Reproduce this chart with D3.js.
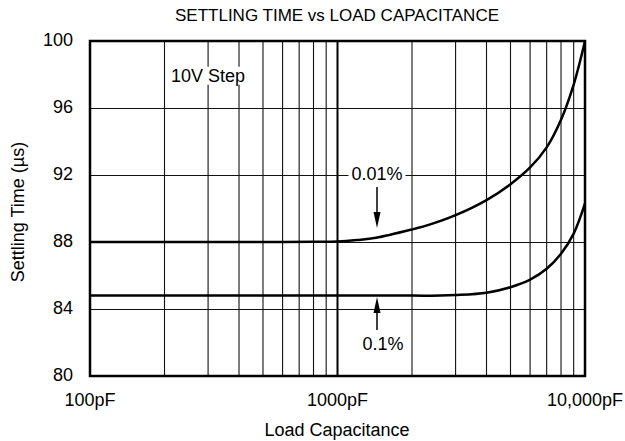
<!DOCTYPE html>
<html><head><meta charset="utf-8">
<script src="https://cdn.jsdelivr.net/npm/d3@7"></script>
<style>body{margin:0;background:#fff}text{font-family:"Liberation Sans",Arial,sans-serif;fill:#000}</style>
</head><body>
<svg id="c" width="625" height="441"></svg>
<script>
const capacitance = [100, 200, 400, 600, 800, 1000, 1200, 1430, 2000, 2370, 3000, 4000, 5000, 6000, 7000, 8000, 9000, 10000];
const settle001 = [88.0, 88.0, 88.0, 88.0, 88.01, 88.03, 88.12, 88.25, 88.75, 89.05, 89.6, 90.5, 91.45, 92.45, 93.65, 95.3, 97.4, 100];
const settle01c = [100, 200, 500, 1000, 2000, 2600, 3000, 4000, 5000, 6000, 7000, 8000, 9000, 10000];
const settle01 = [84.8, 84.8, 84.8, 84.8, 84.8, 84.8, 84.83, 84.97, 85.3, 85.75, 86.4, 87.3, 88.5, 90.3];
const yTicks = [80, 84, 88, 92, 96, 100];
const xTickVals = [100, 1000, 10000];
const xTickLabels = ["100pF", "1000pF", "10,000pF"];

const svg = d3.select("#c");
const L = 90, R = 585, T = 41, B = 376;
const x = d3.scaleLog().domain([100, 10000]).range([L, R]);
const y = d3.scaleLinear().domain([80, 100]).range([B, T]);

// vertical grid
const minor = [];
[100, 1000].forEach(d => { for (let k = 2; k <= 9; k++) minor.push(d * k); });
svg.append("g").selectAll("line").data(minor).join("line")
  .attr("x1", d => x(d)).attr("x2", d => x(d))
  .attr("y1", T).attr("y2", B).attr("stroke", "#111").attr("stroke-width", 1.1);
svg.append("line").attr("x1", x(1000)).attr("x2", x(1000)).attr("y1", T).attr("y2", B)
  .attr("stroke", "#000").attr("stroke-width", 2);
// horizontal grid
svg.append("g").selectAll("line").data(yTicks.slice(1, -1)).join("line")
  .attr("x1", L).attr("x2", R).attr("y1", d => Math.round(y(d)) + 0.5).attr("y2", d => Math.round(y(d)) + 0.5)
  .attr("stroke", "#111").attr("stroke-width", 1);

function label(txt, cx, cy, size) {
  const g = svg.append("g");
  const t = g.append("text").attr("x", cx).attr("y", cy).attr("text-anchor", "middle")
    .attr("dominant-baseline", "middle").attr("font-size", size).text(txt);
  const b = t.node().getBBox();
  g.insert("rect", "text").attr("x", b.x - 3).attr("y", b.y + 1).attr("width", b.width + 6).attr("height", b.height - 2).attr("fill", "#fff");
}

// curves
const line = d3.line().x(d => x(d[0])).y(d => y(d[1])).curve(d3.curveCatmullRom.alpha(0.5));
svg.append("path").attr("d", line(capacitance.map((c, i) => [c, settle001[i]])))
  .attr("fill", "none").attr("stroke", "#000").attr("stroke-width", 2.5);
svg.append("path").attr("d", line(settle01c.map((c, i) => [c, settle01[i]])))
  .attr("fill", "none").attr("stroke", "#000").attr("stroke-width", 2.5);

label("10V Step", 208, 77, 18);
label("0.01%", 377, 175, 18);
label("0.1%", 383, 345, 18);

function arrow(x0, y0, y1) {
  const dir = Math.sign(y1 - y0);
  svg.append("line").attr("x1", x0).attr("x2", x0).attr("y1", y0).attr("y2", y1 - dir * 10)
    .attr("stroke", "#000").attr("stroke-width", 1.5);
  svg.append("path").attr("d", `M${x0 - 3.5},${y1 - dir * 16} L${x0 + 3.5},${y1 - dir * 16} L${x0},${y1} Z`).attr("fill", "#000");
}
arrow(377, 187, 228);
arrow(377, 330, 297);

// frame
svg.append("rect").attr("x", L).attr("y", T).attr("width", R - L).attr("height", B - T)
  .attr("fill", "none").attr("stroke", "#000").attr("stroke-width", 2.5);

svg.append("g").selectAll("text").data(yTicks).join("text")
  .attr("x", 73).attr("y", d => y(d)).attr("text-anchor", "end").attr("dominant-baseline", "middle")
  .attr("font-size", 18).text(d => d);
svg.append("g").selectAll("text").data(xTickVals).join("text")
  .attr("x", d => x(d)).attr("y", 401).attr("text-anchor", "middle").attr("dominant-baseline", "middle")
  .attr("font-size", 18).text((d, i) => xTickLabels[i]);

svg.append("text").attr("x", 337).attr("y", 17).attr("text-anchor", "middle").attr("dominant-baseline", "middle")
  .attr("font-size", 17).text("SETTLING TIME vs LOAD CAPACITANCE");
svg.append("text").attr("x", 337).attr("y", 431).attr("text-anchor", "middle").attr("dominant-baseline", "middle")
  .attr("font-size", 18).text("Load Capacitance");
svg.append("text").attr("transform", "translate(19,212) rotate(-90)").attr("text-anchor", "middle").attr("dominant-baseline", "middle")
  .attr("font-size", 18).text("Settling Time (µs)");
</script>
</body></html>
